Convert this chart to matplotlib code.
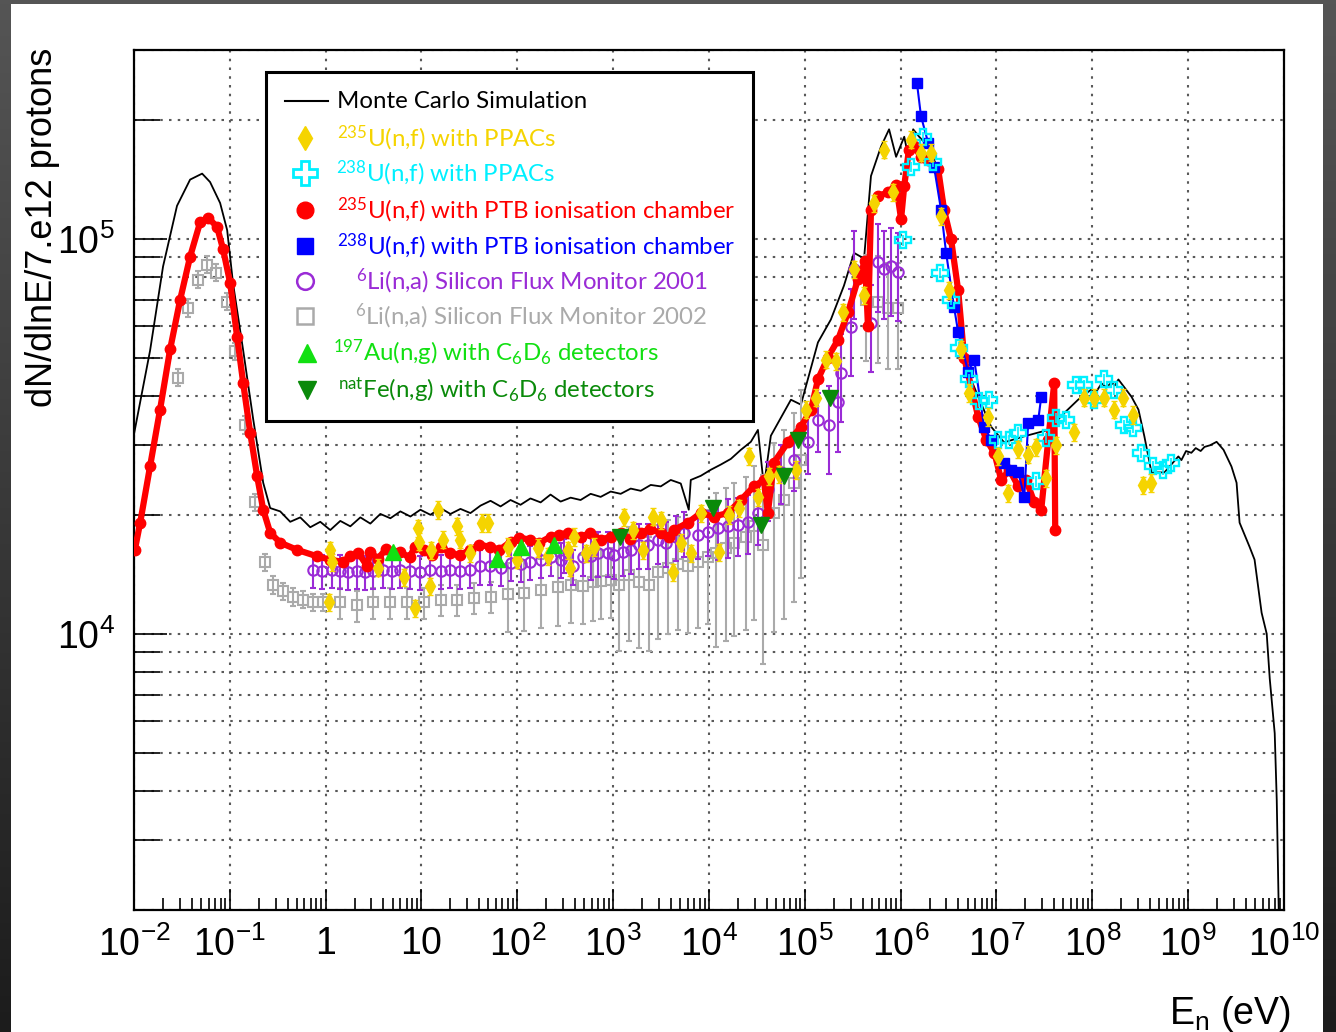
import numpy as np
import matplotlib
matplotlib.use("Agg")
import matplotlib.pyplot as plt
import matplotlib.ticker as ticker
from matplotlib.patches import Rectangle
from matplotlib.colors import LinearSegmentedColormap
from matplotlib import font_manager

# ---------------------------------------------------------------------------
# Fonts
# ---------------------------------------------------------------------------
def pick_font(names):
    for n in names:
        try:
            font_manager.findfont(font_manager.FontProperties(family=n),
                                  fallback_to_default=False)
            return n
        except Exception:
            continue
    return "DejaVu Sans"

NARROW = pick_font(["Liberation Sans Narrow", "Liberation Sans"])
LEGFONT = pick_font(["Lato", "Open Sans"])

plt.rcParams.update({
    "font.family": [LEGFONT, "DejaVu Sans"],
    "mathtext.fontset": "custom",
    "mathtext.rm": LEGFONT,
    "mathtext.sf": NARROW,
    "mathtext.default": "rm",
})

# ---------------------------------------------------------------------------
# Data
# ---------------------------------------------------------------------------
mc_E = [0.0100, 0.0147, 0.0201, 0.0281, 0.0385, 0.0514, 0.0622, 0.0792, 0.0938,
        0.108, 0.138, 0.175, 0.223,
        0.2636, 0.3355, 0.4268, 0.5429, 0.6906, 0.8785, 1.117, 1.421, 1.808, 2.300,
        2.925, 3.721, 4.733, 6.02, 7.66, 9.74, 12.39, 15.76, 20.05, 25.5, 32.4,
        41.3, 52.5, 66.8, 84.9, 108, 137, 175, 222, 283, 360, 457, 582, 740, 942,
        1198, 1524, 1938, 2466, 3136, 3990, 5075, 6150, 6455, 8210, 1.044e4,
        1.328e4, 1.690e4, 2.149e4, 2.734e4, 3.24e4, 3.74e4, 4.42e4, 5.63e4,
        7.16e4, 9.10e4,
        1.37e5, 1.87e5, 2.56e5, 3.26e5, 4.15e5, 4.9e5, 6.24e5, 7.57e5, 8.96e5,
        1.09e6, 1.22e6, 1.35e6, 1.56e6, 1.93e6, 2.46e6, 2.84e6, 3.36e6, 3.98e6,
        4.6e6, 6.44e6, 8.8e6, 1.2e7, 1.95e7, 3.47e7, 5.1e7, 7.1e7, 9.75e7, 1.1e8,
        1.25e8, 1.4e8, 1.58e8, 1.72e8, 1.87e8, 2.56e8, 3.03e8, 3.49e8, 4.14e8,
        5.65e8, 7.9e8, 8.5e8, 9.5e8, 1.08e9, 1.2e9, 1.35e9, 1.48e9, 1.7e9, 1.98e9,
        2.34e9, 2.83e9, 3.2e9, 3.44e9, 4.37e9, 4.93e9, 5.84e9, 6.6e9, 7.1e9,
        8.0e9, 8.4e9, 8.8e9, 9.0e9]
mc_v = [3.2e4, 5.2e4, 8.5e4, 1.21e5, 1.41e5, 1.46e5, 1.39e5, 1.23e5, 1.05e5,
        7.7e4, 5.2e4, 3.5e4, 2.41e4,
        2.08e4, 2.04e4, 1.92e4, 1.97e4, 1.86e4, 1.92e4, 1.83e4, 1.93e4, 1.87e4,
        1.97e4, 1.90e4, 2.01e4, 1.96e4, 2.04e4, 1.98e4, 2.06e4, 2.00e4, 2.08e4,
        2.01e4, 2.07e4, 2.02e4, 2.11e4, 2.17e4, 2.10e4, 2.18e4, 2.12e4, 2.20e4,
        2.15e4, 2.25e4, 2.16e4, 2.21e4, 2.18e4, 2.26e4, 2.22e4, 2.29e4, 2.26e4,
        2.33e4, 2.30e4, 2.38e4, 2.36e4, 2.45e4, 2.40e4, 2.06e4, 2.45e4, 2.51e4,
        2.60e4, 2.68e4, 2.77e4, 2.92e4, 3.06e4, 3.28e4, 2.36e4, 3.17e4, 3.52e4,
        3.91e4, 3.80e4,
        5.46e4, 6.24e4, 7.6e4, 9.2e4, 8.9e4, 1.44e5, 1.71e5, 1.89e5, 1.61e5,
        1.81e5, 1.58e5, 1.89e5, 1.81e5, 1.71e5, 1.50e5, 1.26e5, 9.55e4, 7.3e4,
        4.85e4, 3.98e4, 3.34e4, 3.05e4, 3.16e4, 3.28e4, 3.62e4, 3.91e4, 4.15e4,
        4.1e4, 4.3e4, 4.2e4, 4.32e4, 4.25e4, 4.4e4, 3.98e4, 3.69e4, 3.16e4,
        2.56e4, 2.56e4, 2.81e4, 2.75e4, 2.9e4, 2.87e4, 2.95e4, 2.9e4, 2.97e4,
        3.0e4, 3.06e4, 2.92e4, 2.65e4, 2.41e4, 1.91e4, 1.66e4, 1.54e4, 1.13e4,
        1.0e4, 7.7e3, 5.6e3, 3.8e3, 2.04e3, 1.5e3]

u235_ptb_E = [0.0102, 0.0116, 0.0147, 0.0187, 0.0238, 0.0303, 0.0385, 0.049,
              0.0593, 0.0736, 0.085, 0.101, 0.119, 0.138, 0.163, 0.193, 0.223,
              0.264, 0.336, 0.505, 0.817, 1.12, 1.5, 1.81, 2.2, 2.72, 2.92, 3.5,
              4.3, 6.0, 7.5, 8.5, 10.5, 13, 16, 20, 25, 32, 40, 52, 65, 85, 105,
              137, 170, 222, 270, 335, 457, 580, 740, 950, 1200, 1500, 1940, 2400,
              3130, 3800, 4290, 6000, 8200, 1.12e4, 1.57e4, 2.15e4, 2.94e4, 3.74e4,
              4.11e4, 4.75e4, 6.65e4, 9.1e4, 1.16e5, 1.37e5, 1.74e5, 2.22e5,
              2.82e5, 3.59e5, 4.25e5, 4.56e5, 4.9e5, 5.8e5, 7.4e5, 8.96e5, 1.01e6,
              1.09e6, 1.22e6, 1.38e6, 1.63e6, 1.93e6, 2.46e6, 2.84e6, 3.36e6,
              3.98e6, 4.6e6, 6.44e6, 7.8e6, 9.5e6, 1.12e7, 1.36e7, 1.69e7, 2.04e7,
              2.48e7, 2.93e7, 3.47e7, 4.0e7, 4.1e7]
u235_ptb_v = [1.63e4, 1.91e4, 2.65e4, 3.69e4, 5.24e4, 7.0e4, 9.0e4, 1.10e5,
              1.13e5, 1.07e5, 9.4e4, 7.7e4, 5.65e4, 4.3e4, 3.23e4, 2.5e4, 2.06e4,
              1.80e4, 1.70e4, 1.63e4, 1.57e4, 1.54e4, 1.52e4, 1.57e4, 1.60e4,
              1.48e4, 1.61e4, 1.55e4, 1.64e4, 1.61e4, 1.56e4, 1.66e4, 1.63e4,
              1.58e4, 1.66e4, 1.60e4, 1.58e4, 1.63e4, 1.68e4, 1.66e4, 1.63e4,
              1.71e4, 1.75e4, 1.73e4, 1.70e4, 1.76e4, 1.78e4, 1.80e4, 1.76e4,
              1.80e4, 1.73e4, 1.76e4, 1.80e4, 1.74e4, 1.80e4, 1.84e4, 1.80e4,
              1.76e4, 1.83e4, 1.91e4, 2.02e4, 1.98e4, 2.02e4, 2.18e4, 2.36e4,
              2.45e4, 2.02e4, 2.71e4, 3.05e4, 3.34e4, 3.69e4, 4.4e4, 5.0e4, 5.55e4,
              6.5e4, 7.9e4, 8.75e4, 6.0e4, 1.18e5, 1.28e5, 1.31e5, 1.37e5, 1.12e5,
              1.36e5, 1.68e5, 1.71e5, 1.61e5, 1.58e5, 1.50e5, 1.18e5, 9.95e4,
              7.4e4, 5.0e4, 3.54e4, 3.1e4, 2.87e4, 2.45e4, 2.6e4, 2.36e4, 2.45e4,
              2.15e4, 2.06e4, 3.1e4, 4.3e4, 1.83e4]

u238_ptb_E = [1.48e6, 1.63e6, 1.93e6, 2.23e6, 2.64e6, 2.98e6, 3.61e6, 3.98e6,
              5.06e6, 5.85e6, 7.43e6, 8.8e6, 1.2e7, 1.42e7, 1.69e7, 1.95e7,
              2.14e7, 2.73e7, 2.93e7]
u238_ptb_v = [2.47e5, 2.04e5, 1.75e5, 1.52e5, 1.18e5, 9.2e4, 6.7e4, 5.8e4,
              4.6e4, 4.94e4, 3.34e4, 3.1e4, 2.71e4, 2.6e4, 2.56e4, 2.22e4,
              3.42e4, 3.48e4, 3.98e4]

u235_ppac_E = [1.09, 1.12, 1.17, 3.55, 6.5, 8.6, 9.1, 9.5, 12.4, 12.7, 14.7, 16.9,
               23.7, 25.5, 32, 43, 50, 79, 100, 163, 207, 335, 351, 387, 516, 625,
               1290, 1600, 2030, 2590, 3130, 4190, 5070, 6450, 8200, 1.27e4,
               1.61e4, 2.05e4, 2.6e4, 3.24e4, 4.2e4, 5.4e4, 8.1e4, 1.03e5, 1.31e5,
               1.66e5, 2.11e5, 2.5e5, 3.26e5, 4.15e5, 5.27e5, 6.7e5, 8.3e5,
               1.28e6, 1.63e6, 2.08e6, 2.64e6, 3.2e6, 4.28e6, 5.2e6, 8.2e6,
               1.04e7, 1.33e7, 1.69e7, 2.14e7, 2.6e7, 3.3e7, 4.2e7, 6.5e7, 8.2e7,
               1.05e8, 1.33e8, 1.7e8, 2.1e8, 2.68e8, 3.4e8, 4.14e8]
u235_ppac_v = [1.20e4, 1.63e4, 1.52e4, 1.47e4, 1.39e4, 1.16e4, 1.85e4, 1.71e4,
               1.32e4, 1.63e4, 2.06e4, 1.73e4, 1.87e4, 1.73e4, 1.60e4, 1.91e4,
               1.91e4, 1.66e4, 1.54e4, 1.65e4, 1.57e4, 1.63e4, 1.47e4, 1.76e4,
               1.60e4, 1.66e4, 1.97e4, 1.83e4, 1.63e4, 1.98e4, 1.94e4, 1.43e4,
               1.70e4, 1.60e4, 2.02e4, 1.61e4, 2.0e4, 2.08e4, 2.81e4, 2.22e4,
               2.5e4, 2.53e4, 2.6e4, 3.69e4, 3.96e4, 4.94e4, 4.89e4, 6.5e4,
               8.36e4, 7.2e4, 1.23e5, 1.68e5, 1.31e5, 1.78e5, 1.65e5, 1.65e5,
               1.14e5, 7.4e4, 5.24e4, 4.07e4, 3.54e4, 2.81e4, 2.27e4, 2.93e4,
               2.84e4, 2.97e4, 2.48e4, 3.0e4, 3.24e4, 3.96e4, 3.96e4, 3.96e4,
               3.69e4, 3.96e4, 3.58e4, 2.38e4, 2.41e4]

u238_ppac_E = [1.06e6, 1.28e6, 1.71e6, 2.18e6, 2.58e6, 3.36e6, 4.07e6, 5.2e6,
               6.6e6, 8.4e6, 1.04e7, 1.36e7, 1.69e7, 2.6e7, 3.3e7, 4.2e7, 5.35e7,
               6.8e7, 8.25e7, 1.05e8, 1.33e8, 1.7e8, 2.16e8, 2.68e8, 3.25e8,
               4.34e8, 5.5e8, 6.7e8]
u238_ppac_v = [9.9e4, 1.52e5, 1.81e5, 1.56e5, 8.2e4, 7.0e4, 5.3e4, 4.4e4,
               3.87e4, 3.91e4, 3.1e4, 3.1e4, 3.23e4, 2.43e4, 3.13e4, 3.52e4,
               3.48e4, 4.27e4, 4.27e4, 3.91e4, 4.4e4, 4.15e4, 3.38e4, 3.32e4,
               2.87e4, 2.65e4, 2.6e4, 2.71e4]

li2001_E = [0.74, 0.92, 1.17, 1.42, 1.72, 2.14, 2.59, 3.14, 4.0, 4.97, 6.0, 7.66,
            9.7, 12.4, 15.8, 20, 25.5, 32.4, 41, 52, 67, 85, 108, 137, 175, 222,
            283, 304, 378, 480, 582, 689, 877, 1010, 1256, 1523, 1847, 2295, 2920,
            3540, 4500, 5460, 7640, 9710, 1.24e4, 1.57e4, 2.0e4, 2.54e4, 3.24e4,
            4.11e4, 5.62e4, 7.69e4, 1.08e5, 1.37e5, 1.79e5, 2.22e5, 2.38e5,
            3.03e5, 3.26e5, 4.9e5, 5.8e5, 6.71e5, 7.94e5, 9.4e5]
li2001_v = [1.45e4, 1.44e4, 1.45e4, 1.44e4, 1.43e4, 1.44e4, 1.43e4, 1.44e4,
            1.45e4, 1.44e4, 1.45e4, 1.44e4, 1.43e4, 1.45e4, 1.44e4, 1.45e4,
            1.44e4, 1.45e4, 1.48e4, 1.48e4, 1.47e4, 1.51e4, 1.50e4, 1.52e4,
            1.54e4, 1.56e4, 1.54e4, 1.58e4, 1.48e4, 1.56e4, 1.57e4, 1.60e4,
            1.60e4, 1.58e4, 1.61e4, 1.63e4, 1.68e4, 1.68e4, 1.73e4, 1.70e4,
            1.76e4, 1.80e4, 1.78e4, 1.81e4, 1.85e4, 1.87e4, 1.89e4, 1.92e4,
            2.02e4, 2.32e4, 2.56e4, 2.76e4, 3.06e4, 3.48e4, 3.38e4, 3.85e4,
            4.58e4, 5.98e4, 8.36e4, 6.12e4, 8.7e4, 8.36e4, 8.5e4, 8.25e4]
li2001_err = [0.10] * 30 + [0.13] * 14 + [0.17] * 10 + [0.25] * 10

li2002_E = [0.0288, 0.0367, 0.0467, 0.058, 0.072, 0.0938, 0.1135, 0.1445, 0.184,
            0.234, 0.283, 0.360, 0.458, 0.583, 0.741, 0.944, 1.42, 2.14, 3.14,
            4.73, 7.12, 10.5, 15.8, 23.7, 34.9, 52.5, 79, 116, 175, 263, 360, 480,
            611, 740, 942, 1142, 1453, 1847, 2350, 2917, 3715, 4720, 6000, 7640,
            9710, 1.18e4, 1.5e4, 1.82e4, 2.43e4, 2.94e4, 3.65e4, 4.75e4, 6.05e4,
            7.69e4, 9.1e4, 4.35e5, 5.8e5, 7.38e5, 9.4e5]
li2002_v = [4.45e4, 6.68e4, 7.87e4, 8.59e4, 8.2e4, 6.93e4, 5.18e4, 3.38e4,
            2.15e4, 1.52e4, 1.33e4, 1.28e4, 1.24e4, 1.22e4, 1.20e4, 1.20e4,
            1.20e4, 1.18e4, 1.20e4, 1.20e4, 1.20e4, 1.20e4, 1.22e4, 1.22e4,
            1.23e4, 1.24e4, 1.26e4, 1.27e4, 1.29e4, 1.31e4, 1.33e4, 1.32e4,
            1.35e4, 1.36e4, 1.37e4, 1.33e4, 1.41e4, 1.35e4, 1.33e4, 1.43e4,
            1.47e4, 1.50e4, 1.48e4, 1.52e4, 1.56e4, 1.60e4, 1.65e4, 1.70e4,
            1.76e4, 1.87e4, 1.68e4, 2.02e4, 2.18e4, 2.41e4, 2.76e4, 7.0e4,
            6.93e4, 6.68e4, 6.68e4]
li2002_err = ([0.05] * 16 + [0.09] * 10 + [0.2] * 9 + [0.32] * 10
              + [0.42] * 5 + [0.5] * 5 + [0.3] * 4)

au_E = [5.08, 62, 108, 239]
au_v = [1.61e4, 1.55e4, 1.66e4, 1.68e4]

fe_E = [1170, 1.1e4, 3.5e4, 6.0e4, 8.5e4, 1.83e5]
fe_v = [1.76e4, 2.08e4, 1.89e4, 2.5e4, 3.1e4, 3.94e4]

YELLOW = "#f5d400"
CYAN = "#00f0ff"
RED = "#ff0000"
BLUE = "#0000ff"
PURPLE = "#9a2bd6"
GRAY = "#aaaaaa"
GREEN = "#11e011"
DGREEN = "#0a8a0a"

# ---------------------------------------------------------------------------
# Figure
# ---------------------------------------------------------------------------
W, H = 1336, 1032
fig = plt.figure(figsize=(W / 100, H / 100), dpi=100)

bg = fig.add_axes([0, 0, 1, 1], zorder=-10)
grad = np.linspace(0, 1, 256).reshape(-1, 1)
bg.imshow(grad, aspect="auto", extent=[0, 1, 0, 1], origin="upper",
          cmap=LinearSegmentedColormap.from_list("bgg", ["#555555", "#1c1c1c"]))
bg.add_patch(Rectangle((11 / W, 0), (1323 - 11) / W, (H - 4) / H,
                       facecolor="white", edgecolor="none", transform=bg.transAxes))
bg.set_xlim(0, 1)
bg.set_ylim(0, 1)
bg.axis("off")

ax = fig.add_axes([134 / W, 1 - 910 / H, 1150 / W, 860 / H])
ax.set_xscale("log")
ax.set_yscale("log")
ax.set_xlim(1e-2, 1e10)
ax.set_ylim(2000, 3.0e5)

# Monte Carlo
ax.plot(mc_E, mc_v, color="black", lw=1.3, zorder=3)

# 6Li 2002 (gray open squares)
ax.errorbar(li2002_E, li2002_v, yerr=np.array(li2002_err) * np.array(li2002_v),
            fmt="s", ms=7.5, mfc="none", mec=GRAY, mew=1.5, ecolor=GRAY,
            elinewidth=1.5, capsize=2, zorder=4)
# 6Li 2001 (purple open circles)
ax.errorbar(li2001_E, li2001_v, yerr=np.array(li2001_err) * np.array(li2001_v),
            fmt="o", ms=7.5, mfc="none", mec=PURPLE, mew=1.5, ecolor=PURPLE,
            elinewidth=1.5, capsize=2, zorder=5)
# 235U PTB (red)
ax.plot(u235_ptb_E, u235_ptb_v, "-o", color=RED, lw=4.5, ms=7.5, zorder=6)
# 238U PTB (blue)
ax.plot(u238_ptb_E, u238_ptb_v, "-s", color=BLUE, lw=1.5, ms=7, zorder=7)
# 238U PPAC (cyan open crosses)
ax.errorbar(u238_ppac_E, u238_ppac_v, yerr=0.03 * np.array(u238_ppac_v),
            fmt="P", ms=11, mfc="none", mec=CYAN, mew=1.7, ecolor=CYAN,
            elinewidth=1.2, zorder=8)
# 235U PPAC (yellow diamonds)
ax.errorbar(u235_ppac_E, u235_ppac_v, yerr=0.05 * np.array(u235_ppac_v),
            fmt="d", ms=9, color=YELLOW, mec=YELLOW, ecolor=YELLOW,
            elinewidth=1.4, capsize=2.5, zorder=9)
# Au, Fe
ax.plot(au_E, au_v, "^", color=GREEN, ms=12, zorder=10)
ax.errorbar(fe_E, fe_v, yerr=0.04 * np.array(fe_v), fmt="v", color=DGREEN,
            ms=12, ecolor=DGREEN, elinewidth=1.2, zorder=10)

# axes styling
for s in ax.spines.values():
    s.set_linewidth(1.6)
    s.set_color("black")

ax.xaxis.set_major_locator(ticker.LogLocator(base=10, numticks=30))
ax.xaxis.set_minor_locator(ticker.LogLocator(base=10, subs=np.arange(2, 10), numticks=300))
ax.yaxis.set_major_locator(ticker.LogLocator(base=10, numticks=30))
ax.yaxis.set_minor_locator(ticker.LogLocator(base=10, subs=np.arange(2, 10), numticks=300))


def xfmt(x, _):
    e = int(round(np.log10(x)))
    if e == 0:
        return r"$\mathsf{1}$"
    if e == 1:
        return r"$\mathsf{10}$"
    return r"$\mathsf{10^{%d}}$" % e


def yfmt(x, _):
    e = int(round(np.log10(x)))
    return r"$\mathsf{10^{%d}}$" % e


ax.xaxis.set_major_formatter(ticker.FuncFormatter(xfmt))
ax.xaxis.set_minor_formatter(ticker.NullFormatter())
ax.yaxis.set_major_formatter(ticker.FuncFormatter(yfmt))
ax.yaxis.set_minor_formatter(ticker.NullFormatter())

ax.tick_params(axis="x", which="major", direction="in", length=15, width=1.2,
               labelsize=27, pad=11, top=False, colors="black")
ax.tick_params(axis="x", which="minor", direction="in", length=9, width=1.2,
               top=False)
ax.tick_params(axis="y", which="major", direction="in", length=24, width=1.2,
               labelsize=27, pad=14, right=False)
ax.tick_params(axis="y", which="minor", direction="in", length=19, width=1.2,
               right=False)

gridkw = dict(linestyle=(0, (1.2, 3.0)), color="0.35", lw=1.5)
ax.grid(True, which="major", axis="x", **gridkw)
ax.grid(True, which="both", axis="y", **gridkw)
ax.set_axisbelow(True)

fig.text(43 / W, 1 - 48 / H, "dN/dlnE/7.e12 protons", rotation=90,
         ha="center", va="top", fontsize=26, family=[NARROW, "DejaVu Sans"])
fig.text(1291 / W, 1 - 1024 / H, r"E$_{\mathsf{n}}$ (eV)", ha="right",
         va="baseline", fontsize=27, family=[NARROW, "DejaVu Sans"])

# ---------------------------------------------------------------------------
# Legend (drawn in pixel coordinates)
# ---------------------------------------------------------------------------
lg = fig.add_axes([0, 0, 1, 1], zorder=20)
lg.set_xlim(0, W)
lg.set_ylim(H, 0)
lg.axis("off")
lg.add_patch(Rectangle((266, 72), 753 - 266, 421 - 72, facecolor="white",
                       edgecolor="black", lw=2.2))

leg_y = [101, 138, 173, 210, 246, 281, 316, 353, 390]
lg.plot([285, 328], [leg_y[0], leg_y[0]], color="black", lw=1.5)
lg.plot([305], [leg_y[1]], "d", color=YELLOW, ms=12)
lg.plot([305], [leg_y[2]], "P", ms=17, mfc="none", mec=CYAN, mew=2)
lg.plot([305], [leg_y[3]], "o", color=RED, ms=12)
lg.plot([305], [leg_y[4]], "s", color=BLUE, ms=11)
lg.plot([305], [leg_y[5]], "o", ms=12, mfc="none", mec=PURPLE, mew=1.8)
lg.plot([305], [leg_y[6]], "s", ms=12, mfc="none", mec=GRAY, mew=1.8)
lg.plot([307], [leg_y[7]], "^", color=GREEN, ms=13)
lg.plot([307], [leg_y[8]], "v", color=DGREEN, ms=13)

labels = [
    ("Monte Carlo Simulation", "black", 337),
    (r"$^{235}$U(n,f) with PPACs", YELLOW, 337),
    (r"$^{238}$U(n,f) with PPACs", CYAN, 336),
    (r"$^{235}$U(n,f) with PTB ionisation chamber", RED, 337),
    (r"$^{238}$U(n,f) with PTB ionisation chamber", BLUE, 337),
    (r"$^{6}$Li(n,a) Silicon Flux Monitor 2001", PURPLE, 356),
    (r"$^{6}$Li(n,a) Silicon Flux Monitor 2002", GRAY, 355),
    (r"$^{197}$Au(n,g) with C$_6$D$_6$ detectors", GREEN, 333),
    (r"$^{nat}$Fe(n,g) with C$_6$D$_6$ detectors", DGREEN, 338),
]
for (txt, col, x0), y0 in zip(labels, leg_y):
    lg.text(x0, y0, txt, color=col, fontsize=17.3, ha="left", va="center")

fig.savefig("out.png", dpi=100, facecolor=fig.get_facecolor())
